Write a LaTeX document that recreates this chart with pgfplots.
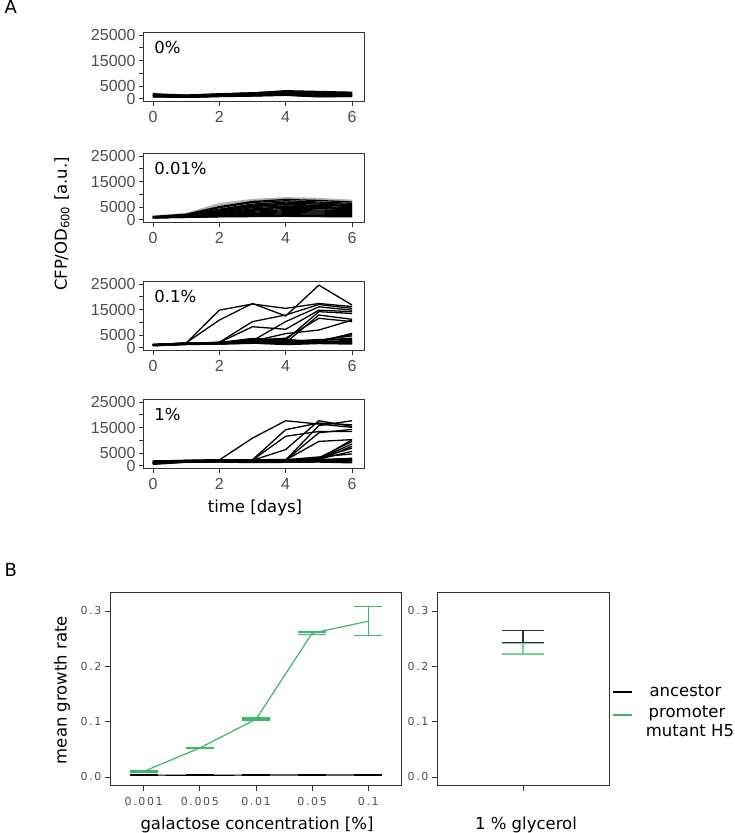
\documentclass[border=0pt]{standalone}
\usepackage{pgfplots}
\pgfplotsset{compat=1.18}
\usepackage{fontspec}
\setmainfont{DejaVu Sans}
\newfontfamily\arialf{Liberation Sans}
\newfontfamily\tickB[LetterSpace=15]{DejaVu Sans}
\definecolor{gA}{HTML}{333333}
\definecolor{gT}{HTML}{4D4D4D}
\definecolor{mygreen}{RGB}{63,182,105}
\definecolor{lightgreen}{RGB}{125,206,152}
\newcommand\labfont{\fontsize{16.5}{19}\selectfont}

\pgfplotsset{
 panelA/.style={
  anchor=south west, scale only axis, width=221pt, height=69pt,
  xmin=-0.3, xmax=6.36, ymin=-1100, ymax=25950,
  xtick={0,2,4,6}, xticklabels={0,2,4,6},
  ytick={0,5000,10000,15000,20000,25000}, yticklabels={0,5000,,15000,,25000},
  scaled y ticks=false, scaled x ticks=false,
  tick pos=left, tick align=outside, major tick length=4pt,
  axis line style={gA, line width=1pt},
  tick style={gA, line width=0.8pt},
  tick label style={font=\arialf\fontsize{16}{16}\selectfont, text=gT},
  xticklabel style={yshift=-2pt},
  /pgf/number format/assume math mode=true,
  cycle list={{black, mark=none}},
  every axis plot/.append style={line width=1.3pt, mark=none, line join=round},
 },
 panelB/.style={
  anchor=south west, scale only axis, height=194pt,
  ymin=-0.0163, ymax=0.3343,
  ytick={0,0.1,0.2,0.3}, yticklabels={0.0,0.1,0.2,0.3},
  scaled y ticks=false,
  tick pos=left, tick align=outside, major tick length=5pt,
  axis line style={gA, line width=1pt},
  tick style={gA, line width=0.8pt},
  tick label style={font=\tickB\fontsize{11}{11}\selectfont, text=gT},
  xticklabel style={yshift=-3pt},
  /pgf/number format/assume math mode=true,
 },
}

\begin{document}
\begin{tikzpicture}
\useasboundingbox (0,0) rectangle (734pt,833pt);

% ---------------- Panel A: 0% ----------------
\begin{axis}[panelA, at={(143pt,731.3pt)}]
\addplot coordinates {(0,1000)(1,800)(2,1100)(3,1300)(4,1600)(5,1000)(6,1200)};
\addplot coordinates {(0,1200)(1,900)(2,1300)(3,1600)(4,1900)(5,1400)(6,1500)};
\addplot coordinates {(0,1500)(1,1100)(2,1500)(3,1800)(4,2200)(5,1800)(6,1800)};
\addplot coordinates {(0,1800)(1,1300)(2,1700)(3,2100)(4,2600)(5,2300)(6,2100)};
\addplot coordinates {(0,2000)(1,1500)(2,2000)(3,2400)(4,3000)(5,2700)(6,2400)};
\addplot coordinates {(0,900)(1,600)(2,900)(3,1100)(4,1400)(5,800)(6,1000)};
\addplot coordinates {(0,1300)(1,1000)(2,1400)(3,1700)(4,2000)(5,1200)(6,1600)};
\addplot coordinates {(0,1600)(1,1200)(2,1600)(3,2000)(4,2400)(5,2000)(6,1900)};
\addplot coordinates {(0,1100)(1,900)(2,1200)(3,1500)(4,1800)(5,1500)(6,1300)};
\addplot coordinates {(0,1700)(1,1400)(2,1900)(3,2200)(4,2800)(5,2500)(6,2300)};
\addplot coordinates {(0,1400)(1,1200)(2,1800)(3,2300)(4,3200)(5,2900)(6,2600)};
\addplot coordinates {(0,800)(1,600)(2,1000)(3,1200)(4,1500)(5,900)(6,900)};
\node[anchor=base west, font=\labfont] at (axis description cs:0.035,0.70) {0\%};
\end{axis}

% ---------------- Panel A: 0.01% ----------------
\begin{axis}[panelA, at={(143pt,610.3pt)}]
\addplot[gray!55] coordinates {(0,1500)(1,2500)(2,6400)(3,8000)(4,8700)(5,8400)(6,7700)};
\addplot[gray!70] coordinates {(0,1400)(1,2300)(2,5800)(3,7600)(4,8300)(5,8000)(6,7300)};
\addplot coordinates {(0,1300)(1,2200)(2,5200)(3,7200)(4,8000)(5,7600)(6,7000)};
\addplot coordinates {(0,1200)(1,2000)(2,4800)(3,6800)(4,7500)(5,7000)(6,6500)};
\addplot coordinates {(0,1100)(1,1900)(2,4200)(3,6200)(4,7000)(5,6600)(6,6000)};
\addplot coordinates {(0,1000)(1,1800)(2,3800)(3,5800)(4,6500)(5,6200)(6,5600)};
\addplot coordinates {(0,1200)(1,1700)(2,3400)(3,5200)(4,6000)(5,5800)(6,5200)};
\addplot coordinates {(0,1000)(1,1600)(2,3000)(3,4800)(4,5500)(5,5300)(6,4800)};
\addplot coordinates {(0,900)(1,1500)(2,2700)(3,4300)(4,5000)(5,4800)(6,4400)};
\addplot coordinates {(0,1100)(1,1500)(2,2500)(3,3800)(4,4500)(5,4400)(6,4000)};
\addplot coordinates {(0,1000)(1,1400)(2,2200)(3,3400)(4,4000)(5,3900)(6,3600)};
\addplot coordinates {(0,900)(1,1300)(2,2000)(3,3000)(4,3600)(5,3500)(6,3200)};
\addplot coordinates {(0,800)(1,1200)(2,1800)(3,2600)(4,3200)(5,3100)(6,2800)};
\addplot coordinates {(0,1000)(1,1200)(2,1600)(3,2300)(4,2800)(5,2700)(6,2500)};
\addplot coordinates {(0,900)(1,1100)(2,1500)(3,2000)(4,2400)(5,2300)(6,2100)};
\addplot coordinates {(0,800)(1,1000)(2,1300)(3,1700)(4,2000)(5,1900)(6,1800)};
\addplot coordinates {(0,900)(1,1100)(2,1400)(3,1500)(4,1700)(5,1600)(6,1500)};
\addplot coordinates {(0,800)(1,1000)(2,1200)(3,1300)(4,1400)(5,1300)(6,1200)};
\addplot coordinates {(0,1000)(1,1300)(2,2500)(3,4000)(4,5200)(5,5600)(6,5900)};
\addplot coordinates {(0,1100)(1,1600)(2,3600)(3,5500)(4,6200)(5,5000)(6,4200)};
\node[anchor=base west, font=\labfont] at (axis description cs:0.035,0.70) {0.01\%};
\end{axis}

% ---------------- Panel A: 0.1% ----------------
\begin{axis}[panelA, at={(143pt,482.3pt)}]
\addplot coordinates {(0,1200)(1,1900)(2,14800)(3,17200)(4,15500)(5,17400)(6,16200)};
\addplot coordinates {(0,1100)(1,2000)(2,10900)(3,17400)(4,12500)(5,24600)(6,16800)};
\addplot coordinates {(0,1300)(1,1800)(2,2200)(3,10300)(4,12900)(5,17000)(6,15500)};
\addplot coordinates {(0,1000)(1,1700)(2,2100)(3,8300)(4,7300)(5,14800)(6,14200)};
\addplot coordinates {(0,1200)(1,1800)(2,2000)(3,2800)(4,10300)(5,16100)(6,14800)};
\addplot coordinates {(0,1100)(1,1600)(2,1900)(3,2500)(4,3100)(5,14200)(6,13500)};
\addplot coordinates {(0,1000)(1,1700)(2,1800)(3,2200)(4,2000)(5,12900)(6,11200)};
\addplot coordinates {(0,1300)(1,1900)(2,2100)(3,3000)(4,3800)(5,11600)(6,10300)};
\addplot coordinates {(0,1200)(1,1800)(2,2000)(3,2600)(4,5600)(5,7000)(6,10900)};
\addplot coordinates {(0,900)(1,1500)(2,1700)(3,2400)(4,1800)(5,2500)(6,5700)};
\addplot coordinates {(0,1100)(1,1600)(2,1900)(3,3200)(4,2600)(5,3000)(6,4700)};
\addplot coordinates {(0,1000)(1,1500)(2,1800)(3,2000)(4,2200)(5,2800)(6,3800)};
\addplot coordinates {(0,800)(1,1400)(2,1600)(3,2400)(4,1500)(5,2000)(6,2500)};
\addplot coordinates {(0,1000)(1,1500)(2,1700)(3,2800)(4,2100)(5,2300)(6,3000)};
\addplot coordinates {(0,1300)(1,1700)(2,2000)(3,3500)(4,2700)(5,2600)(6,2200)};
\addplot coordinates {(0,900)(1,1300)(2,1500)(3,1900)(4,1300)(5,1700)(6,1500)};
\addplot coordinates {(0,1200)(1,1600)(2,1800)(3,2600)(4,3300)(5,2400)(6,2800)};
\addplot coordinates {(0,1100)(1,1700)(2,1900)(3,3000)(4,2400)(5,3300)(6,3400)};
\addplot coordinates {(0,1000)(1,1400)(2,1500)(3,1800)(4,1700)(5,1900)(6,1800)};
\addplot coordinates {(0,1400)(1,1800)(2,2100)(3,3700)(4,3000)(5,2800)(6,5200)};
\addplot coordinates {(0,1200)(1,1500)(2,1700)(3,2200)(4,1900)(5,2200)(6,2000)};
\node[anchor=base west, font=\labfont] at (axis description cs:0.035,0.70) {0.1\%};
\end{axis}

% ---------------- Panel A: 1% ----------------
\begin{axis}[panelA, at={(143pt,364.3pt)}]
\addplot coordinates {(0,1500)(1,2000)(2,2300)(3,10900)(4,17700)(5,16400)(6,15100)};
\addplot coordinates {(0,1200)(1,1900)(2,2000)(3,2400)(4,14200)(5,16800)(6,16100)};
\addplot coordinates {(0,1400)(1,2100)(2,2200)(3,2300)(4,11600)(5,13500)(6,13500)};
\addplot coordinates {(0,1000)(1,1800)(2,1900)(3,2200)(4,6400)(5,17700)(6,15500)};
\addplot coordinates {(0,1300)(1,2000)(2,2100)(3,2100)(4,2300)(5,15800)(6,17700)};
\addplot coordinates {(0,1100)(1,1900)(2,2000)(3,2200)(4,2300)(5,9600)(6,10300)};
\addplot coordinates {(0,1600)(1,2000)(2,2200)(3,2100)(4,2200)(5,13000)(6,14300)};
\addplot coordinates {(0,1200)(1,1800)(2,2000)(3,1900)(4,2000)(5,2600)(6,10300)};
\addplot coordinates {(0,1000)(1,1700)(2,1800)(3,2000)(4,2100)(5,3200)(6,9600)};
\addplot coordinates {(0,1400)(1,2000)(2,2100)(3,2200)(4,2300)(5,2800)(6,8600)};
\addplot coordinates {(0,900)(1,1600)(2,1700)(3,1800)(4,1900)(5,2400)(6,7700)};
\addplot coordinates {(0,1300)(1,1900)(2,2000)(3,2100)(4,2000)(5,3000)(6,7000)};
\addplot coordinates {(0,1100)(1,1800)(2,1900)(3,1900)(4,2200)(5,2700)(6,5700)};
\addplot coordinates {(0,1500)(1,2100)(2,2200)(3,2300)(4,2400)(5,3500)(6,4700)};
\addplot coordinates {(0,800)(1,1700)(2,1600)(3,1500)(4,1700)(5,1800)(6,1500)};
\addplot coordinates {(0,1700)(1,2200)(2,2300)(3,2400)(4,2500)(5,2600)(6,2700)};
\addplot coordinates {(0,2000)(1,2100)(2,2400)(3,2200)(4,2300)(5,2400)(6,2200)};
\addplot coordinates {(0,1000)(1,1500)(2,1700)(3,1800)(4,1600)(5,1700)(6,1900)};
\addplot coordinates {(0,1300)(1,1900)(2,2000)(3,2000)(4,2100)(5,2000)(6,2400)};
\addplot coordinates {(0,600)(1,1400)(2,1500)(3,1300)(4,1400)(5,1500)(6,1200)};
\addplot coordinates {(0,1800)(1,2000)(2,2100)(3,2100)(4,2200)(5,2300)(6,3000)};
\addplot coordinates {(0,1200)(1,1800)(2,1900)(3,1700)(4,1800)(5,2100)(6,2000)};
\node[anchor=base west, font=\labfont] at (axis description cs:0.035,0.70) {1\%};
\end{axis}

\node[rotate=90, font=\labfont] at (62pt,609pt) {CFP/OD\textsubscript{600} [a.u.]};
\node[anchor=base, font=\labfont] at (255pt,320pt) {time [days]};
\node[anchor=base west, font=\fontsize{18}{20}\selectfont] at (1pt,819pt) {A};
\node[anchor=base west, font=\fontsize{18}{20}\selectfont] at (1pt,256pt) {B};

% ---------------- Panel B left ----------------
\begin{axis}[panelB, at={(110pt,47pt)}, width=292pt, xmin=0.4, xmax=5.6,
  xtick={1,2,3,4,5}, xticklabels={0.001,0.005,0.01,0.05,0.1}]
\addplot[black, line width=1.2pt, mark=none,
  error bars/.cd, y dir=both, y explicit,
  error bar style={black, line width=1.2pt},
  error mark options={rotate=90, mark size=14pt, line width=1.4pt, black}]
  coordinates {(1,0.0035) +- (0,0.0006) (2,0.003) +- (0,0.0005) (3,0.0035) +- (0,0.0008) (4,0.0037) +- (0,0.0008) (5,0.0035) +- (0,0.0004)};
\addplot[mygreen, line width=1.2pt, mark=none,
  error bars/.cd, y dir=both, y explicit,
  error bar style={mygreen, line width=1.3pt},
  error mark options={rotate=90, mark size=14pt, line width=1.4pt, mygreen}]
  coordinates {(1,0.0100) +- (0,0.0012) (2,0.0525) +- (0,0.0008) (3,0.1045) +- (0,0.0018) (4,0.2598) +- (0,0.0025) (5,0.2815) += (0,0.0265) -= (0,0.026)};
\end{axis}

% ---------------- Panel B right ----------------
\begin{axis}[panelB, at={(437pt,47pt)}, width=172pt, xmin=0.4, xmax=1.6,
  xtick={1}, xticklabels={\empty}]
\addplot[lightgreen, line width=1.2pt, mark=none,
  error bars/.cd, y dir=both, y explicit,
  error bar style={lightgreen, line width=1.3pt},
  error mark options={rotate=90, mark size=21pt, line width=1.3pt, lightgreen}]
  coordinates {(1,0.2315) +- (0,0.0095)};
\addplot[gA, line width=1.2pt, mark=none,
  error bars/.cd, y dir=both, y explicit,
  error bar style={gA, line width=1.3pt},
  error mark options={rotate=90, mark size=21pt, line width=1.3pt, gA}]
  coordinates {(1,0.254) +- (0,0.011)};
\end{axis}

\node[rotate=90, font=\labfont] at (62pt,143pt) {mean growth rate};
\node[anchor=base, font=\labfont] at (257pt,4pt) {galactose concentration [\%]};
\node[anchor=base, font=\labfont] at (526pt,4pt) {1 \% glycerol};

% legend
\draw[black, line width=1.2pt] (613pt,141pt) -- (632pt,141pt);
\draw[mygreen, line width=1.2pt] (613pt,118pt) -- (632pt,118pt);
\node[anchor=base west, font=\labfont] at (646pt,136pt) {ancestor};
\node[anchor=base, font=\labfont] at (687pt,115pt) {promoter};
\node[anchor=base, font=\labfont] at (690pt,96pt) {mutant H5};
\end{tikzpicture}
\end{document}
